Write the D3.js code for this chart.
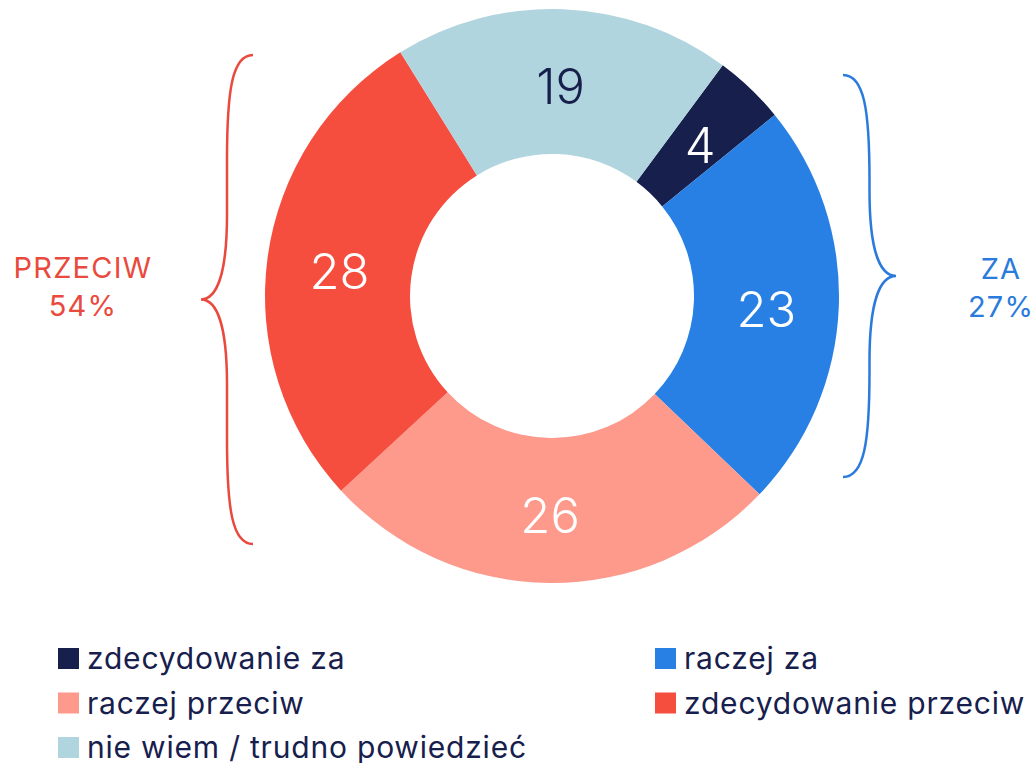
<!DOCTYPE html>
<html>
  <head>
    <meta charset="utf-8" />
    <script src="https://d3js.org/d3.v7.min.js"></script>
    <style>
      body {
        margin: 0;
        background: #fff;
      }
      text {
        font-family: Inter, "Noto Sans", sans-serif;
      }
    </style>
  </head>
  <body>
    <div id="chart"></div>
    <script>
      const categories = [
        "zdecydowanie za",
        "raczej za",
        "raczej przeciw",
        "zdecydowanie przeciw",
        "nie wiem / trudno powiedzieć",
      ];
      const values = [4, 23, 26, 28, 19];
      const colors = ["#17204d", "#2880e4", "#fd9a8c", "#f54e3f", "#b0d5de"];
      const labelColors = ["#fff", "#fff", "#fff", "#fff", "#17204d"];

      // group braces
      const groups = [
        { name: "ZA", total: "27%", color: "#2a7bdc" },
        { name: "PRZECIW", total: "54%", color: "#e94a3d" },
      ];

      const width = 1035,
        height = 763;
      const cx = 552,
        cy = 296,
        outerR = 287,
        innerR = 142;

      const svg = d3
        .select("#chart")
        .append("svg")
        .attr("width", width)
        .attr("height", height);

      const start = (36.5 * Math.PI) / 180;
      const pie = d3
        .pie()
        .sort(null)
        .startAngle(start)
        .endAngle(start + 2 * Math.PI);
      const arc = d3.arc().innerRadius(innerR).outerRadius(outerR);

      const g = svg.append("g").attr("transform", `translate(${cx},${cy})`);
      const arcs = pie(values);

      g.selectAll("path")
        .data(arcs)
        .join("path")
        .attr("d", arc)
        .attr("fill", (d, i) => colors[i]);

      g.selectAll("text")
        .data(arcs)
        .join("text")
        .attr("transform", (d) => `translate(${arc.centroid(d)})`)
        .attr("text-anchor", "middle")
        .attr("dy", "0.45em")
        .attr("fill", (d, i) => labelColors[i])
        .style("font-size", "49px")
        .style("font-weight", 300)
        .text((d) => d.data);

      // curly brace path, vertical, tip pointing left or right
      function brace(x0, y0, y1, depth) {
        const ym = (y0 + y1) / 2;
        const xm = x0 + depth / 2;
        const xt = x0 + depth;
        return `M${x0},${y0}
          C${x0 + depth * 0.4},${y0} ${xm},${y0 + 35} ${xm},${y0 + 105}
          L${xm},${ym - 85}
          C${xm},${ym - 25} ${xm + depth * 0.2},${ym} ${xt},${ym}
          C${xm + depth * 0.2},${ym} ${xm},${ym + 25} ${xm},${ym + 85}
          L${xm},${y1 - 105}
          C${xm},${y1 - 35} ${x0 + depth * 0.4},${y1} ${x0},${y1}`;
      }

      svg
        .append("path")
        .attr("d", brace(843, 75, 477, 53))
        .attr("fill", "none")
        .attr("stroke", groups[0].color)
        .attr("stroke-width", 2.5);

      svg
        .append("path")
        .attr("d", brace(253, 55, 544, -52))
        .attr("fill", "none")
        .attr("stroke", groups[1].color)
        .attr("stroke-width", 2.5);

      const groupPos = [
        [1001, 279],
        [83, 278],
      ];
      groups.forEach((gr, i) => {
        const t = svg
          .append("text")
          .attr("x", groupPos[i][0])
          .attr("y", groupPos[i][1])
          .attr("text-anchor", "middle")
          .attr("fill", gr.color)
          .style("font-size", "29px")
          .style("letter-spacing", "1.2px");
        t.append("tspan").attr("x", groupPos[i][0]).text(gr.name);
        t.append("tspan")
          .attr("x", groupPos[i][0])
          .attr("dy", 38)
          .text(gr.total);
      });

      // legend, two columns
      const legend = svg
        .append("g")
        .selectAll("g")
        .data(categories)
        .join("g")
        .attr(
          "transform",
          (d, i) => `translate(${i % 2 ? 655 : 58},${648 + Math.floor(i / 2) * 44.5})`
        );

      legend
        .append("rect")
        .attr("width", 21)
        .attr("height", 21)
        .attr("fill", (d, i) => colors[i]);

      legend
        .append("text")
        .attr("x", 29)
        .attr("y", 21)
        .attr("fill", "#17204d")
        .style("font-size", "30px")
        .style("letter-spacing", "0.8px")
        .text((d) => d);
    </script>
  </body>
</html>
